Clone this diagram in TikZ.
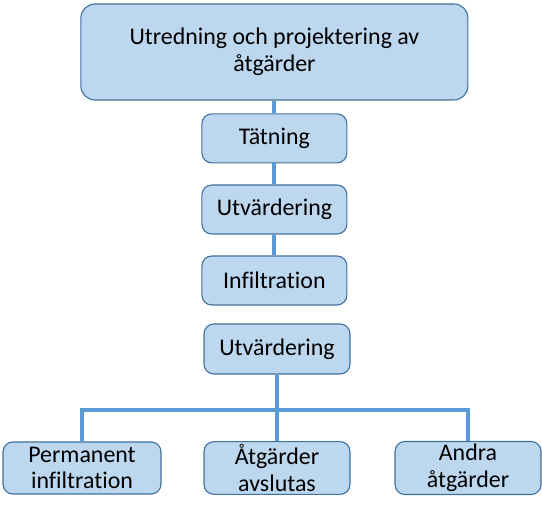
\documentclass[tikz,border=0pt]{standalone}
\usepackage{fontspec}
\setmainfont[Ligatures=CommonOff]{Carlito}
\usepackage{tikz}

\definecolor{boxfill}{RGB}{189,215,238}
\definecolor{boxline}{RGB}{65,113,156}
\definecolor{linkline}{RGB}{91,155,213}

\tikzset{
 stepbox/.style={draw=boxline, fill=boxfill, line width=0.8pt, rounded corners=7pt,
  minimum width=#1, minimum height=1.225cm, inner sep=2pt, align=center,
  font=\fontsize{17}{19}\selectfont},
 stepbox/.default=3.625cm,
 link/.style={draw=linkline, line width=2.8pt}
}

\begin{document}
\begin{tikzpicture}
 \useasboundingbox (0,0) rectangle (13.55,12.8);
 \node[stepbox=9.675cm, minimum height=2.4cm, rounded corners=10pt] at (6.86,11.5)(plan){Utredning och projektering av\\ åtgärder};
 \node[stepbox] at (6.86,9.34)(seal){Tätning};
 \node[stepbox] at (6.86,7.5625)(eval1){Utvärdering};
 \node[stepbox] at (6.86,5.7875)(infil){Infiltration};
 \node[stepbox=3.65cm, minimum height=1.25cm] at (6.925,4.075)(eval2){Utvärdering};
 \node[stepbox=3.95cm, minimum height=1.3cm] at (2.05,1.1)(perm){Permanent\\ infiltration};
 \node[stepbox=3.65cm, minimum height=1.3cm] at (6.925,1.1)(stop){Åtgärder\\ avslutas};
 \node[stepbox=3.65cm, minimum height=1.3cm] at (11.7,1.1)(other){Andra\\ åtgärder};
 \coordinate (bar) at (6.925,2.55);
 \draw[link] (plan.south) -- (seal.north);
 \draw[link] (seal.south) -- (eval1.north);
 \draw[link] (eval1.south) -- (infil.north);
 \draw[link] (eval2.south) -- (stop.north);
 \draw[link] (perm.north) |- (bar) -| (other.north);
\end{tikzpicture}
\end{document}
